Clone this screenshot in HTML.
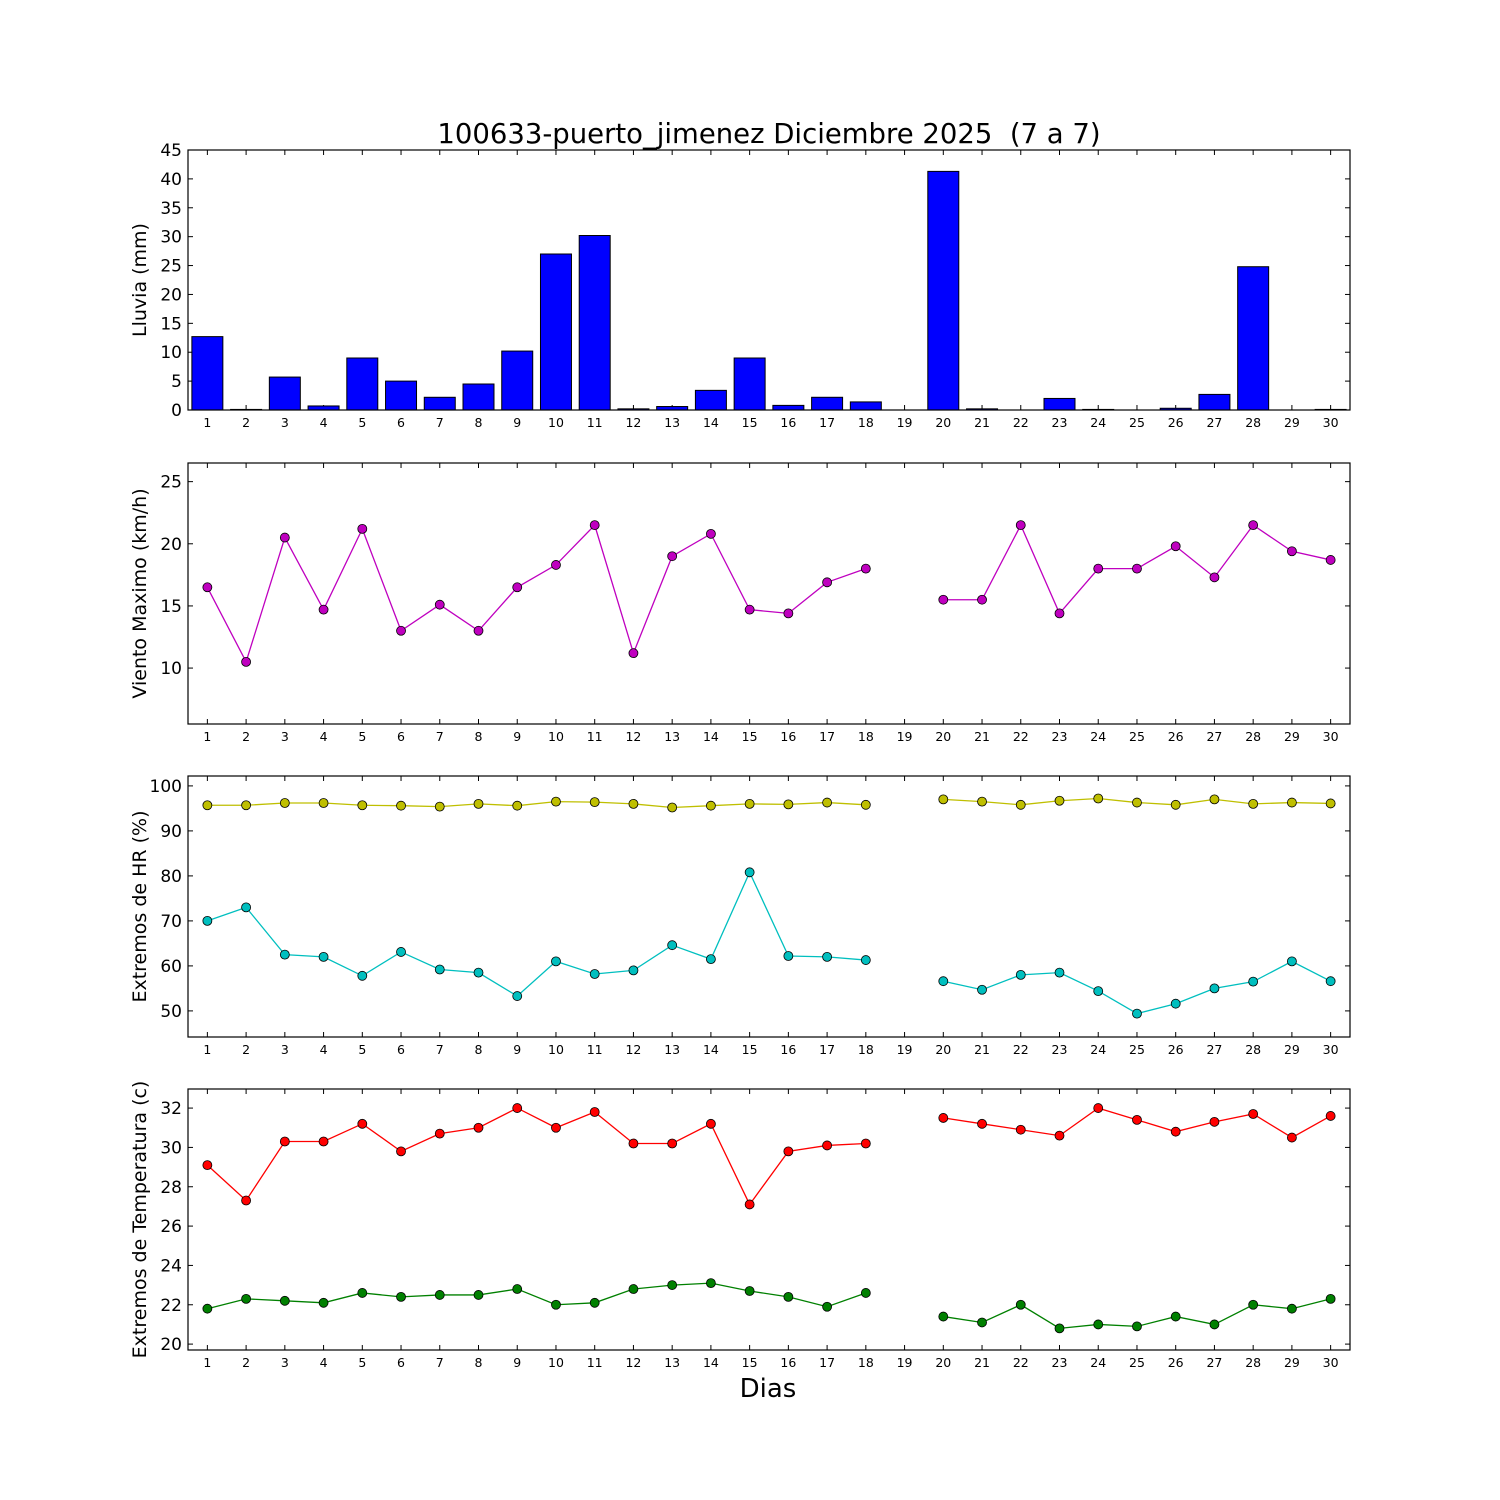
<!DOCTYPE html>
<html><head><meta charset="utf-8"><style>body{margin:0;background:#fff}svg{display:block;font-family:"DejaVu Sans","Liberation Sans",sans-serif}</style></head>
<body>
<svg id="c" width="1500" height="1500" viewBox="0 0 1500 1500">
<rect width="1500" height="1500" fill="#fff"/>
<text x="769" y="143" font-size="27.5" text-anchor="middle" style="white-space:pre">100633-puerto_jimenez Diciembre 2025  (7 a 7)</text>
<text x="768" y="1397" font-size="26" text-anchor="middle">Dias</text>
</svg>
<script>
const days=[1,2,3,4,5,6,7,8,9,10,11,12,13,14,15,16,17,18,19,20,21,22,23,24,25,26,27,28,29,30];
const rain=[12.7,0.1,5.7,0.7,9,5,2.2,4.5,10.2,27,30.2,0.2,0.6,3.4,9,0.8,2.2,1.4,0,41.3,0.2,0,2,0.1,0,0.3,2.7,24.8,0,0.1];
const wind=[16.5,10.5,20.5,14.7,21.2,13,15.1,13,16.5,18.3,21.5,11.2,19,20.8,14.7,14.4,16.9,18,null,15.5,15.5,21.5,14.4,18,18,19.8,17.3,21.5,19.4,18.7];
const hrMax=[95.7,95.7,96.2,96.2,95.7,95.6,95.4,96,95.6,96.5,96.4,96,95.2,95.6,96,95.9,96.3,95.8,null,97,96.5,95.8,96.7,97.2,96.3,95.8,97,96,96.3,96.1];
const hrMin=[70,73,62.5,62,57.8,63.1,59.2,58.5,53.3,61,58.2,59,64.6,61.5,80.8,62.2,62,61.3,null,56.6,54.7,58,58.5,54.4,49.4,51.6,55,56.5,61,56.6];
const tMax=[29.1,27.3,30.3,30.3,31.2,29.8,30.7,31,32,31,31.8,30.2,30.2,31.2,27.1,29.8,30.1,30.2,null,31.5,31.2,30.9,30.6,32,31.4,30.8,31.3,31.7,30.5,31.6];
const tMin=[21.8,22.3,22.2,22.1,22.6,22.4,22.5,22.5,22.8,22,22.1,22.8,23,23.1,22.7,22.4,21.9,22.6,null,21.4,21.1,22,20.8,21,20.9,21.4,21,22,21.8,22.3];
const ticks1=[0,5,10,15,20,25,30,35,40,45];
const ticks2=[10,15,20,25];
const ticks3=[50,60,70,80,90,100];
const ticks4=[20,22,24,26,28,30,32];

const svg=document.getElementById('c');
const NS='http://www.w3.org/2000/svg';
function mk(t,a){const e=document.createElementNS(NS,t);for(const k in a)e.setAttribute(k,a[k]);svg.appendChild(e);return e;}
const X0=188,X1=1350;
const xs=d=>X0+(d-0.5)*(X1-X0)/30;

function panel(name,top,bot,ymin,ymax,ticks,label){
  const ys=v=>bot-(v-ymin)/(ymax-ymin)*(bot-top);
  ticks.forEach(t=>{
    const y=ys(t);
    mk('line',{x1:X0,x2:X0+5,y1:y,y2:y,stroke:'#000'});
    mk('line',{x1:X1-5,x2:X1,y1:y,y2:y,stroke:'#000'});
    const tx=mk('text',{x:X0-6,y:y+6,'font-size':17,'text-anchor':'end'});
    tx.textContent=t;
    
    
  });
  days.forEach(d=>{
    const x=xs(d);
    mk('line',{x1:x,x2:x,y1:bot,y2:bot-5,stroke:'#000'});
    mk('line',{x1:x,x2:x,y1:top,y2:top+5,stroke:'#000'});
    const tx=mk('text',{x:x,y:bot+17,'font-size':12.5,'text-anchor':'middle'});
    tx.textContent=d;
    
    
  });
  const cy=(top+bot)/2;
  const yl=mk('text',{x:0,y:0,'font-size':19,'text-anchor':'middle',transform:`translate(146,${cy}) rotate(-90)`});
  yl.textContent=label;
  
  
  return ys;
}
function frame(top,bot,name){
  const r=mk('rect',{x:X0,y:top,width:X1-X0,height:bot-top,fill:'none',stroke:'#000','stroke-width':1.2});
  
  
}
function series(ys,vals,color,name){
  let segs=[],cur=[];
  vals.forEach((v,i)=>{if(v===null){if(cur.length)segs.push(cur);cur=[];}else cur.push([xs(days[i]),ys(v)]);});
  if(cur.length)segs.push(cur);
  segs.forEach(s=>{
    const p=mk('polyline',{points:s.map(q=>q.join(',')).join(' '),fill:'none',stroke:color,'stroke-width':1.3});
    
    
  });
  vals.forEach((v,i)=>{if(v===null)return;
    const c=mk('circle',{cx:xs(days[i]),cy:ys(v),r:4.5,fill:color,stroke:'#000','stroke-width':0.8});
    
    
  });
}
let ys=panel('rain',150,410,0,45,ticks1,'Lluvia (mm)');
const bw=0.8*(X1-X0)/30;
rain.forEach((v,i)=>{
  const y=ys(v);
  const b=mk('rect',{x:xs(days[i])-bw/2,y:y,width:bw,height:410-y,fill:'#0000ff',stroke:'#000','stroke-width':1});
  
  
});
frame(150,410,'rain');
ys=panel('wind',463,724,5.5,26.5,ticks2,'Viento Maximo (km/h)');
series(ys,wind,'#bf00bf','wind');
frame(463,724,'wind');
ys=panel('hr',776,1037,44.2,102.2,ticks3,'Extremos de HR (%)');
series(ys,hrMax,'#bfbf00','hr-max');
series(ys,hrMin,'#00bfbf','hr-min');
frame(776,1037,'hr');
ys=panel('temp',1089,1350,19.7,32.97,ticks4,'Extremos de Temperatura (c)');
series(ys,tMax,'#ff0000','temp-max');
series(ys,tMin,'#008000','temp-min');
frame(1089,1350,'temp');
</script>
</body></html>
